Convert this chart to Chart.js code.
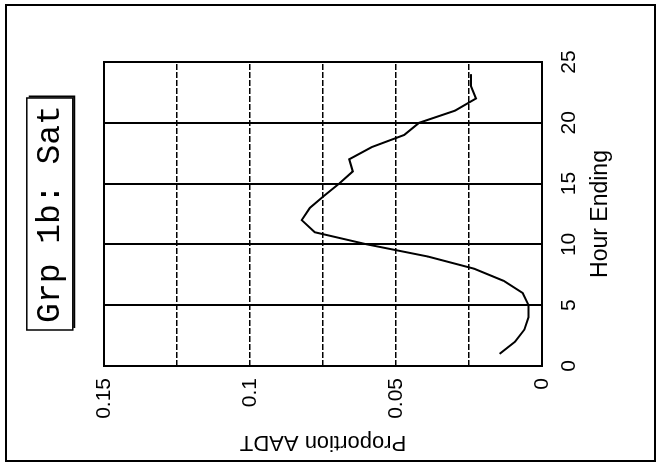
<!DOCTYPE html>
<html>
<head>
<meta charset="utf-8">
<script src="https://cdn.jsdelivr.net/npm/chart.js@4.4.1/dist/chart.umd.min.js"></script>
<style>
  html, body { margin: 0; padding: 0; background: #fff; overflow: hidden; }
  body { width: 661px; height: 469px; position: relative; }
  /* scanned page edge */
  #frame { position: absolute; left: 5px; top: 4px; width: 651px; height: 458px;
           border: 2px solid #000; box-sizing: border-box; }
  /* the figure lies on its side in the scan, so turn it 90 degrees to the left */
  #turn { position: absolute; left: 0; top: 0; width: 469px; height: 661px;
          transform-origin: 0 0; transform: translate(0, 469px) rotate(-90deg); }
</style>
</head>
<body>
<div id="frame"></div>
<div id="turn"><canvas id="c" width="469" height="661"></canvas></div>
<script>
// hour of day (hour ending)
var hours = [1, 2, 3, 4, 5, 6, 7, 8, 9, 10, 11, 12,
             13, 14, 15, 16, 17, 18, 19, 20, 21, 22, 23, 24];
// proportion of AADT in each hour
var aadt = [0.0145, 0.0092, 0.0060, 0.0046, 0.0046, 0.0066, 0.0131, 0.0232,
            0.0390, 0.0599, 0.0778, 0.0823, 0.0795, 0.0746, 0.0695, 0.0648,
            0.0660, 0.0583, 0.0472, 0.0421, 0.0298, 0.0226, 0.0243, 0.0243];

// axis ticks
var hourTicks = [0, 5, 10, 15, 20, 25];
var propTicks = [0, 0.025, 0.05, 0.075, 0.1, 0.125, 0.15];
var propLabels = ['0', '', '0.05', '', '0.1', '', '0.15'];

var titleText = 'Grp 1b: Sat';

var sans = 'Liberation Sans';

// box round the plot and round the title
var boxes = {
    id: 'boxes',
    afterDraw: function (chart) {
        var ctx = chart.ctx;
        var a = chart.chartArea;
        ctx.save();
        ctx.strokeStyle = '#000';
        ctx.lineWidth = 2;
        ctx.strokeRect(a.left, a.top, a.right - a.left, a.bottom - a.top);

        // title frame with a little shadow on right and bottom
        var t = chart.titleBlock;
        var cx = (t.left + t.right) / 2;
        var cy = t.top + 30 + 19.8;
        var hw = 116, hh = 23;
        ctx.lineWidth = 1.5;
        ctx.strokeRect(cx - hw, cy - hh, hw * 2, hh * 2);
        ctx.lineWidth = 2;
        ctx.beginPath();
        ctx.moveTo(cx - hw + 2, cy + hh + 1.5);
        ctx.lineTo(cx + hw + 1.5, cy + hh + 1.5);
        ctx.lineTo(cx + hw + 1.5, cy - hh + 2);
        ctx.stroke();
        ctx.restore();
    }
};

var points = hours.map(function (h, i) {
    return {x: h, y: aadt[i]};
});

var chart = new Chart(document.getElementById('c').getContext('2d'), {
    type: 'line',
    data: {
        datasets: [{
            data: points,
            borderColor: '#000',
            borderWidth: 2,
            pointRadius: 0,
            tension: 0,
            fill: false
        }]
    },
    options: {
        responsive: false,
        animation: false,
        devicePixelRatio: 1,
        layout: {padding: {top: 0, right: 62, bottom: 0, left: 0}},
        plugins: {
            legend: {display: false},
            tooltip: {enabled: false},
            title: {
                display: true,
                text: titleText,
                fullSize: false,
                color: '#000',
                font: {family: 'Liberation Mono', size: 33, weight: 'normal', lineHeight: 1.2},
                padding: {top: 30, bottom: 34.4}
            }
        },
        scales: {
            x: {
                type: 'linear',
                min: 0,
                max: 25,
                afterBuildTicks: function (s) {
                    s.ticks = hourTicks.map(function (v) { return {value: v}; });
                },
                afterFit: function (s) { s.height = 119; },
                ticks: {color: '#000', padding: 15, maxRotation: 0,
                        font: {family: sans, size: 21}},
                grid: {color: '#000', lineWidth: 2, drawTicks: false},
                border: {display: false},
                title: {display: true, text: 'Hour Ending', color: '#000',
                        font: {family: sans, size: 23}, padding: {top: 0, bottom: 47}}
            },
            y: {
                min: 0,
                max: 0.15,
                afterBuildTicks: function (s) {
                    s.ticks = propTicks.map(function (v) { return {value: v}; });
                },
                afterFit: function (s) { s.width = 103; },
                ticks: {
                    color: '#000', padding: 12,
                    font: {family: sans, size: 21},
                    callback: function (v, i) { return propLabels[i]; }
                },
                grid: {color: '#000', lineWidth: 1.5, drawTicks: false},
                border: {display: false, dash: [6, 2]},
                title: {display: true, text: 'Proportion AADT', color: '#000',
                        font: {family: sans, size: 22}, padding: {top: 14, bottom: 0}}
            }
        }
    },
    plugins: [boxes]
});
</script>
</body>
</html>
